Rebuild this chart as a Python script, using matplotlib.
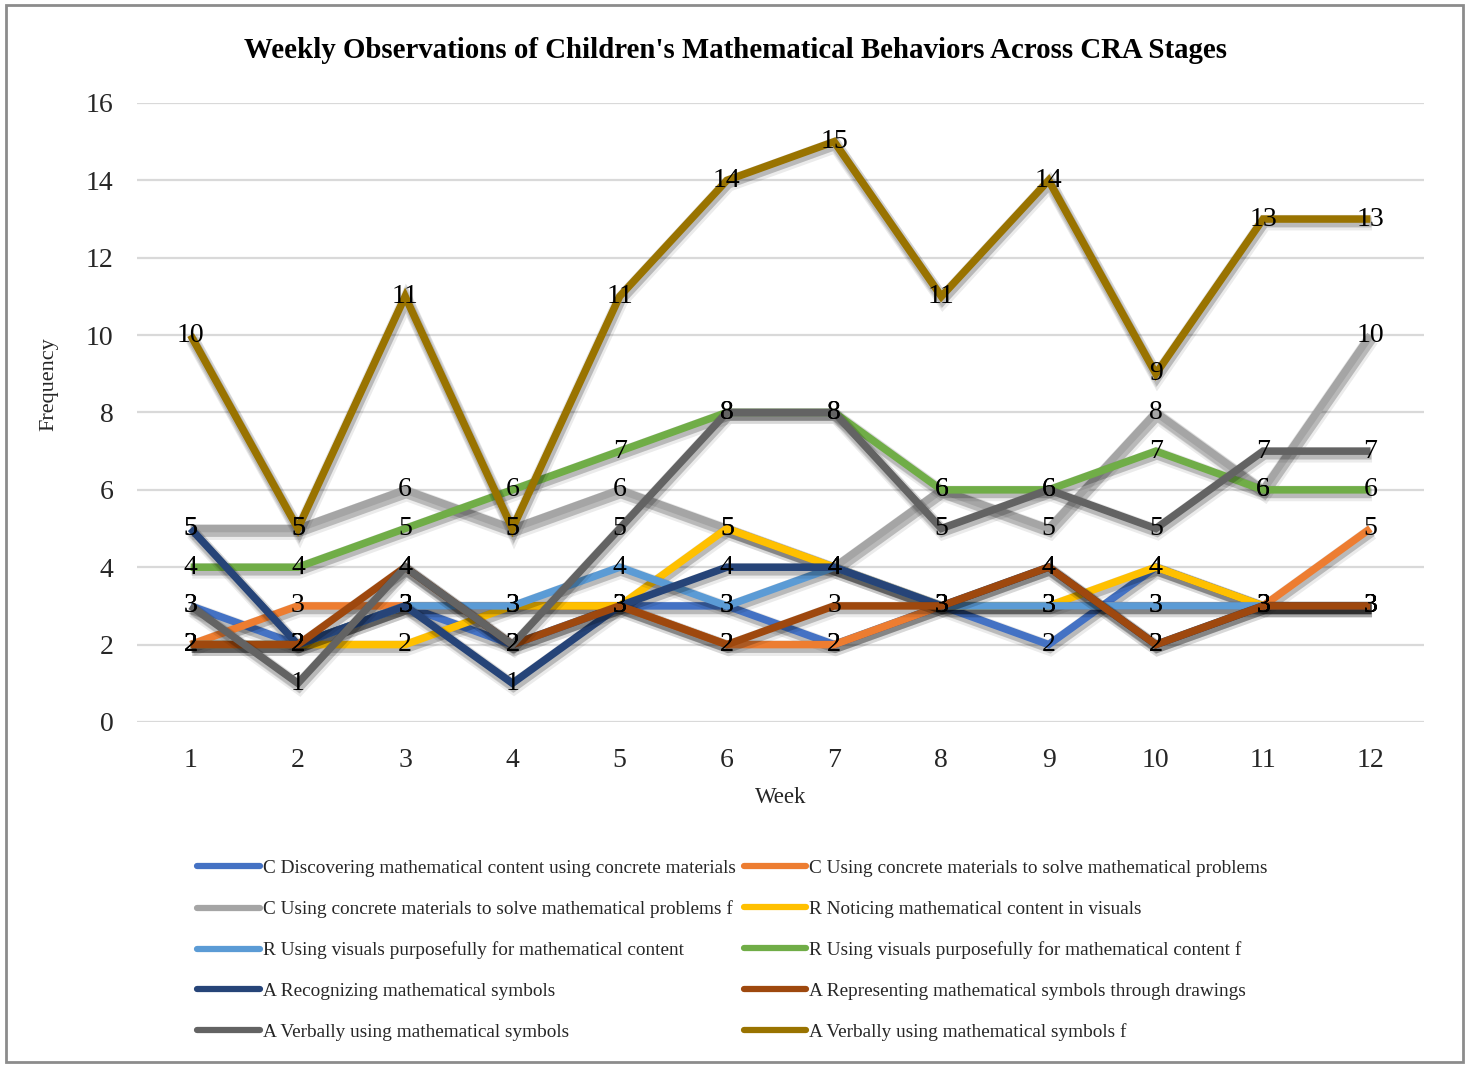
import matplotlib
matplotlib.use("Agg")
import matplotlib.pyplot as plt
import matplotlib.patheffects as pe
from matplotlib.patches import Rectangle

weeks = list(range(1, 13))

c_discovering = [3, 2, 3, 2, 3, 3, 2, 3, 2, 4, 3, 3]
c_using = [2, 3, 3, 3, 3, 2, 2, 3, 3, 3, 3, 5]
c_using_f = [5, 5, 6, 5, 6, 5, 4, 6, 5, 8, 6, 10]
r_noticing = [2, 2, 2, 3, 3, 5, 4, 3, 3, 4, 3, 3]
r_using = [2, 2, 3, 3, 4, 3, 4, 3, 3, 3, 3, 3]
r_using_f = [4, 4, 5, 6, 7, 8, 8, 6, 6, 7, 6, 6]
a_recognizing = [5, 2, 3, 1, 3, 4, 4, 3, 4, 2, 3, 3]
a_representing = [2, 2, 4, 2, 3, 2, 3, 3, 4, 2, 3, 3]
a_verbally = [3, 1, 4, 2, 5, 8, 8, 5, 6, 5, 7, 7]
a_verbally_f = [10, 5, 11, 5, 11, 14, 15, 11, 14, 9, 13, 13]

series_names = [
    "C Discovering mathematical content using concrete materials",
    "C Using concrete materials to solve mathematical problems",
    "C Using concrete materials to solve mathematical problems f",
    "R Noticing mathematical content in visuals",
    "R Using visuals purposefully for mathematical content",
    "R Using visuals purposefully for mathematical content f",
    "A Recognizing mathematical symbols",
    "A Representing mathematical symbols through drawings",
    "A Verbally using mathematical symbols",
    "A Verbally using mathematical symbols f",
]
series_values = [c_discovering, c_using, c_using_f, r_noticing, r_using,
                 r_using_f, a_recognizing, a_representing, a_verbally,
                 a_verbally_f]
colors = ["#4472C4", "#ED7D31", "#A5A5A5", "#FFC000", "#5B9BD5",
          "#70AD47", "#264478", "#9E480E", "#636363", "#997300"]

serif = ["Liberation Serif", "DejaVu Serif"]
plt.rcParams["font.family"] = serif
text_color = "#262626"

fig = plt.figure(figsize=(14.7, 10.65), dpi=100)
ax = fig.add_axes([0.0932, 0.3221, 0.8755, 0.5812])

# soft drop shadow under every line
shadow = [pe.SimpleLineShadow(offset=(0.5, -1.5), shadow_color="black",
                              alpha=0.10, linewidth=9),
          pe.SimpleLineShadow(offset=(1.0, -2.5), shadow_color="black",
                              alpha=0.12, linewidth=7),
          pe.SimpleLineShadow(offset=(1.2, -3.2), shadow_color="black",
                              alpha=0.08, linewidth=10),
          pe.Normal()]

handles = []
for name, vals, col in zip(series_names, series_values, colors):
    ln, = ax.plot(weeks, vals, color=col, lw=5.4, solid_joinstyle="miter",
                  solid_capstyle="butt", label=name, path_effects=shadow,
                  zorder=3)
    handles.append(ln)

for vals in series_values:
    for w, v in zip(weeks, vals):
        ax.text(w, v, str(v), ha="center", va="center", fontsize=20,
                color="black", zorder=10)

ax.set_xlim(0.5, 12.5)
ax.set_ylim(0, 16)
ax.set_yticks(range(0, 17, 2))
ax.set_xticks(weeks)
ax.tick_params(axis="both", length=0, labelsize=20, colors=text_color)
ax.tick_params(axis="x", pad=19)
ax.tick_params(axis="y", pad=17)
ax.grid(axis="y", color="#D9D9D9", lw=1.6, zorder=0)
ax.set_axisbelow(True)
for s in ax.spines.values():
    s.set_visible(False)

ax.set_xlabel("Week", fontsize=16.5, color=text_color, labelpad=14)
ax.xaxis.set_label_coords(0.5, -0.105)
ax.set_ylabel("Frequency", fontsize=16, color=text_color)
ax.yaxis.set_label_coords(-0.061, 0.545)

fig.text(0.5, 0.953, "Weekly Observations of Children's Mathematical "
         "Behaviors Across CRA Stages", ha="center", va="center",
         fontsize=20.8, fontweight="bold", color="black")

# legend: two columns, filled row by row
order = [0, 2, 4, 6, 8, 1, 3, 5, 7, 9]
leg = fig.legend([handles[i] for i in order],
                 [series_names[i] for i in order],
                 ncol=2, loc="upper left", bbox_to_anchor=(0.129, 0.200),
                 frameon=False, fontsize=13.9, handlelength=3.25,
                 handletextpad=0.15, columnspacing=0.4, labelspacing=1.2,
                 borderaxespad=0)
for t in leg.get_texts():
    t.set_color(text_color)
for h in leg.legend_handles:
    h.set_linewidth(4.5)
    h.set_path_effects([])
    h.set_solid_capstyle("round")

fig.add_artist(Rectangle((0.004, 0.003), 0.991, 0.992,
                         transform=fig.transFigure, fill=False,
                         edgecolor="#8C8C8C", lw=2))

fig.savefig("out.png", dpi=100, facecolor="white")
